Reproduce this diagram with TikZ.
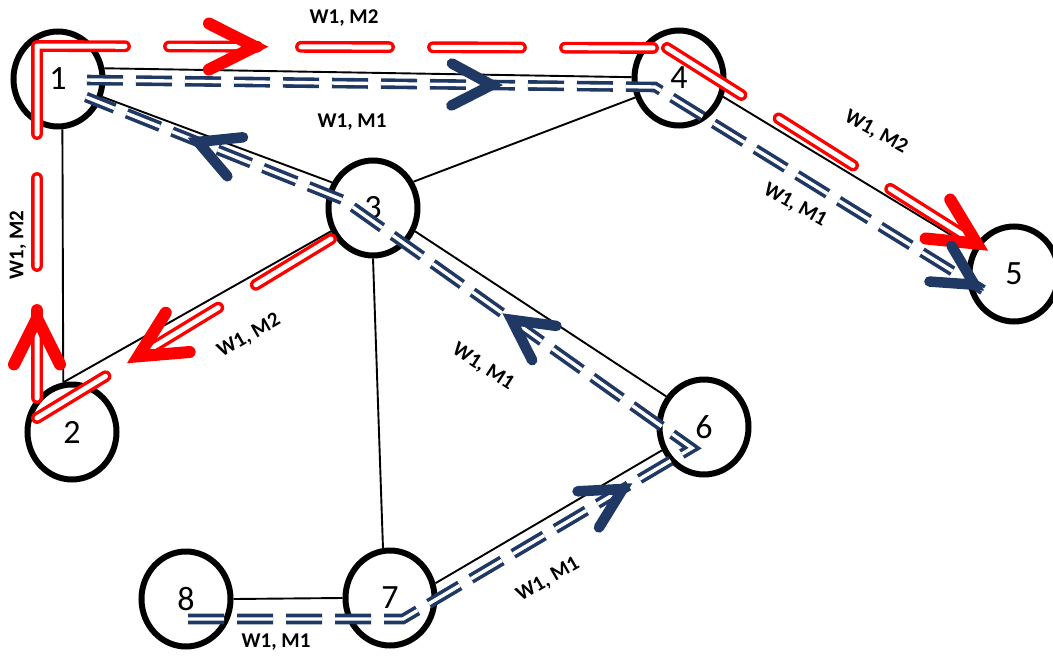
\documentclass[tikz,border=0pt]{standalone}
\usepackage{fontspec}
\setmainfont{Carlito}
\usetikzlibrary{shapes.geometric}
\definecolor{navy}{RGB}{31,56,100}
\definecolor{rd}{RGB}{255,0,0}

\tikzset{
  vertex/.style={ellipse, draw, line width=6pt, minimum width=89pt, minimum height=95pt,
    inner sep=0pt, font=\fontsize{34}{34}\selectfont},
  link/.style={line width=1.9pt},
  routetwo/.style={draw=rd, double=white, line width=3.4pt, double distance=5pt,
    line cap=round, dash pattern=on 88pt off 44pt},
  routeone/.style={draw=navy, double=white, line width=3.6pt, double distance=3.4pt,
    dash pattern=on 36pt off 13pt},
  onroute/.style={sloped, allow upside down},
  wlabel/.style={font=\bfseries\fontsize{21}{21}\selectfont, inner sep=0pt},
  redtip/.pic={\draw[rd, line width=12pt, line cap=round] (-58pt,23pt) -- (-12pt,0pt) -- (-58pt,-23pt);},
  bluetip/.pic={\draw[navy, line width=10.5pt, line cap=round] (-50pt,21pt) -- (-10pt,0pt) -- (-50pt,-21pt);},
}

\begin{document}
\begin{tikzpicture}[x=1pt, y=-1pt]
    \useasboundingbox (0,0) rectangle (1053,656);

    % Nodes
    \node[vertex] (n1) at (58,79) {1};
    \node[vertex] (n2) at (72,432) {2};
    \node[vertex] (n3) at (373,208) {3};
    \node[vertex] (n4) at (679,78) {4};
    \node[vertex] (n5) at (1014,274) {5};
    \node[vertex] (n6) at (704,427) {6};
    \node[vertex] (n7) at (390,598) {7};
    \node[vertex] (n8) at (186,599) {8};

    % Links
    \draw[link] (n1.13) -- (n4.179);
    \draw[link] (n1.-22) -- (n3.148);
    \draw[link] (n1.-85) -- (n2.100);
    \draw[link] (n2.100) -- (n3.-151);
    \draw[link] (n3.33) -- (n4.-156);
    \draw[link] (n4.-23) -- (n5.148);
    \draw[link] (n3.-29) -- (n6.141);
    \draw[link] (n3.-90) -- (n7.98);
    \draw[link] (n7.18) -- (n6.-151);
    \draw[link] (n8.east) -- (n7.west);

    % Route points
    \coordinate (r3) at (331,239);
    \coordinate (r2) at (37,418);
    \coordinate (r1) at (37,46);
    \coordinate (r4) at (667,48);
    \coordinate (r5) at (987,250);
    \coordinate (b8) at (188,619);
    \coordinate (b7) at (403,619);
    \coordinate (b6) at (692,448);
    \coordinate (b3) at (343,200);
    \coordinate (b1) at (86,97);
    \coordinate (c1) at (87,80);
    \coordinate (c4) at (655,87);
    \coordinate (c5) at (983,290);

    % Route W1, M2
    \draw[routetwo] (r3) -- (r2) (r1) -- (r2) (r1) -- (r4) (r4) -- (r5);
    % Route W1, M1
    \draw[routeone] (b8) -- (b7) -- (b6) -- (b3) -- (b1) (c1) -- (c4) -- (c5);

    % Arrow heads
    \path (r3) -- (r2) pic[onroute, pos=.69] {redtip};
    \path (r2) -- (r1) pic[onroute, pos=.30] {redtip};
    \path (r1) -- (r4) pic[onroute, pos=.365] {redtip};
    \path (r4) -- (r5) pic[onroute, pos=1] {redtip};
    \path (b7) -- (b6) pic[onroute, pos=.79] {bluetip};
    \path (b6) -- (b3) pic[onroute, pos=.54] {bluetip};
    \path (b3) -- (b1) pic[onroute, pos=.60] {bluetip};
    \path (c1) -- (c4) pic[onroute, pos=.73] {bluetip};
    \path (c4) -- (c5) pic[onroute, pos=1] {bluetip};

    % Labels
    \node[wlabel] (l14a) at (344,18) {W1, M2};
    \node[wlabel] (l14b) at (352,122) {W1, M1};
    \node[wlabel, rotate=-29] (l45a) at (876,132) {W1, M2};
    \node[wlabel, rotate=-29] (l45b) at (795,205) {W1, M1};
    \node[wlabel, rotate=90] (l12) at (18,245) {W1, M2};
    \node[wlabel, rotate=30] (l23) at (249,336) {W1, M2};
    \node[wlabel, rotate=-33] (l36) at (483,367) {W1, M1};
    \node[wlabel, rotate=30] (l76) at (548,580) {W1, M1};
    \node[wlabel] (l87) at (276,642) {W1, M1};
\end{tikzpicture}
\end{document}
